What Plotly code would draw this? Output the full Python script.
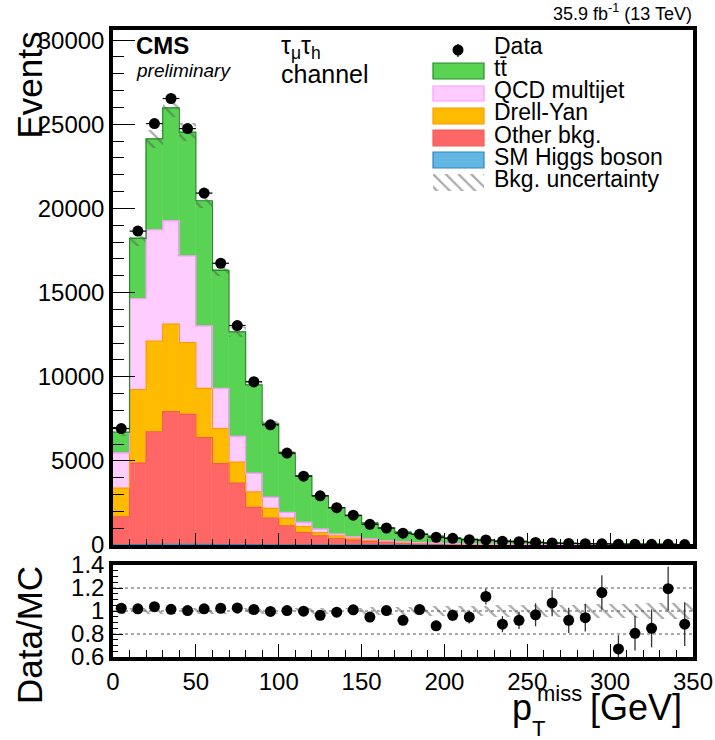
import plotly.graph_objects as go

# ---------------- data ----------------
bin_low = [0, 10, 20, 30, 40, 50, 60, 70, 80, 90, 100, 110, 120, 130, 140, 150, 160, 170,
           180, 190, 200, 210, 220, 230, 240, 250, 260, 270, 280, 290, 300, 310, 320, 330, 340]
bin_width = 10

data_events = [6920, 18650, 25040, 26530, 24740, 20910, 16740, 13040, 9700, 7140, 5460, 4090,
               2920, 2220, 1770, 1230, 1010, 700, 640, 460, 400, 315, 300, 220, 196, 150, 120,
               95, 80, 70, 45, 45, 40, 40, 25]

higgs = [10, 25, 40, 45, 40, 35, 30, 25, 20, 15, 12, 10, 8, 6, 5, 4, 3, 3, 2, 2, 2, 1, 1, 1, 1,
         1, 1, 1, 1, 1, 1, 1, 1, 1, 1]
other_bkg = [1670, 4840, 6690, 7880, 7720, 6350, 4800, 3650, 2220, 1590, 1130, 730, 540, 380,
             290, 210, 150, 110, 85, 70, 55, 45, 35, 32, 28, 20, 15, 13, 11, 8, 9, 7, 6, 5, 4]
drell_yan = [1700, 4370, 5390, 5200, 4260, 2920, 2090, 1250, 920, 570, 460, 360, 190, 160, 110,
             80, 55, 40, 30, 22, 17, 13, 10, 9, 7, 5, 4, 3, 3, 2, 2, 2, 1, 1, 1]
qcd = [2090, 5410, 6610, 6150, 5160, 3710, 2380, 1530, 1100, 660, 330, 240, 200, 100, 80, 60,
       40, 30, 20, 15, 12, 9, 7, 6, 5, 4, 3, 2, 2, 1, 1, 1, 1, 1, 1]
ttbar = [1230, 3570, 5400, 6700, 7340, 7440, 7020, 6210, 5260, 4360, 3540, 2780, 1990, 1580,
         1260, 950, 755, 580, 495, 423, 331, 263, 213, 203, 175, 126, 90, 85, 69, 49, 55, 46,
         39, 27, 22]

bkg_unc_rel = [0.03, 0.025, 0.022, 0.022, 0.022, 0.022, 0.022, 0.022, 0.022, 0.024, 0.025,
               0.026, 0.028, 0.03, 0.03, 0.032, 0.034, 0.036, 0.038, 0.04, 0.042, 0.044, 0.046,
               0.048, 0.05, 0.052, 0.054, 0.056, 0.058, 0.06, 0.062, 0.064, 0.066, 0.068, 0.07]

ratio = [1.024, 1.019, 1.038, 1.015, 1.004, 1.019, 1.024, 1.027, 1.013, 0.996, 1.004, 0.998,
         0.962, 0.99, 1.01, 0.947, 1.004, 0.919, 1.013, 0.871, 0.962, 0.947, 1.126, 0.885,
         0.919, 0.967, 1.07, 0.919, 0.942, 1.16, 0.67, 0.806, 0.849, 1.194, 0.885]
ratio_err = [0.012, 0.008, 0.007, 0.006, 0.007, 0.007, 0.008, 0.009, 0.01, 0.012, 0.014, 0.016,
             0.019, 0.021, 0.024, 0.028, 0.032, 0.037, 0.04, 0.045, 0.05, 0.055, 0.07, 0.07,
             0.075, 0.1, 0.115, 0.11, 0.12, 0.15, 0.12, 0.15, 0.165, 0.19, 0.19]

ytick_vals = [0, 5000, 10000, 15000, 20000, 25000, 30000]

# ---------------- styling ----------------
FONT = "Liberation Sans, Arial, Helvetica, sans-serif"
C_TT, L_TT = "#59D354", "#2A8C2A"
C_QCD, L_QCD = "#FFCCFF", "#FF99FF"
C_DY, L_DY = "#FFBB00", "#FF9900"
C_OTH, L_OTH = "#FF6666", "#F25A5A"
C_H, L_H = "#63B5E2", "#2E86C1"

centers = [b + bin_width / 2 for b in bin_low]
edges = bin_low + [bin_low[-1] + bin_width]

fig = go.Figure()

components = [(higgs, C_H, L_H), (other_bkg, C_OTH, L_OTH), (drell_yan, C_DY, L_DY),
              (qcd, C_QCD, L_QCD), (ttbar, C_TT, L_TT)]
cum = [0.0] * len(bin_low)
tops = []
for vals, col, lcol in components:
    base = list(cum)
    fig.add_trace(go.Bar(x=centers, y=vals, base=base, width=bin_width,
                         marker=dict(color=col, line=dict(color=col, width=0.6)),
                         showlegend=False, hoverinfo="skip", xaxis="x", yaxis="y"))
    cum = [c + v for c, v in zip(cum, vals)]
    tops.append((list(cum), lcol))

# step outlines of each stacked layer
for top, lcol in tops:
    fig.add_trace(go.Scatter(x=edges, y=top + [top[-1]], mode="lines",
                             line=dict(color=lcol, width=1.2, shape="hv"),
                             showlegend=False, hoverinfo="skip", xaxis="x", yaxis="y"))

total = cum
hatch = dict(shape="\\", fgcolor="#555555", bgcolor="rgba(0,0,0,0)", size=9,
             solidity=0.25, fillmode="overlay")
fig.add_trace(go.Bar(x=centers, y=[2 * u * t for u, t in zip(bkg_unc_rel, total)],
                     base=[(1 - u) * t for u, t in zip(bkg_unc_rel, total)], width=bin_width,
                     marker=dict(color="rgba(0,0,0,0)", line=dict(width=0), pattern=hatch),
                     showlegend=False, hoverinfo="skip", xaxis="x", yaxis="y"))

fig.add_trace(go.Scatter(x=centers, y=data_events, mode="markers",
                         marker=dict(color="black", size=11),
                         error_x=dict(type="constant", value=bin_width / 2, width=0,
                                      thickness=1.2, color="black"),
                         showlegend=False, xaxis="x", yaxis="y"))

# ratio panel
fig.add_trace(go.Bar(x=centers, y=[2 * u for u in bkg_unc_rel],
                     base=[1 - u for u in bkg_unc_rel], width=bin_width,
                     marker=dict(color="rgba(0,0,0,0)", line=dict(width=0), pattern=hatch),
                     showlegend=False, hoverinfo="skip", xaxis="x2", yaxis="y2"))
fig.add_trace(go.Scatter(x=centers, y=ratio, mode="markers",
                         marker=dict(color="black", size=11),
                         error_y=dict(type="data", array=ratio_err, width=0, thickness=1.3,
                                      color="#333333"),
                         showlegend=False, xaxis="x2", yaxis="y2", cliponaxis=True))

W, H = 715, 740
L, R, T, B = 113, 22, 30, 83
PW, PH = W - L - R, H - T - B


def px(xpix):
    return (xpix - L) / PW


def py(ypix):
    return (H - B - ypix) / PH


# legend swatch for the hatch (hidden helper axis)
fig.add_trace(go.Bar(x=[0.5], y=[1], base=[0], width=[1],
                     marker=dict(color="rgba(0,0,0,0)", line=dict(width=0), pattern=hatch),
                     showlegend=False, hoverinfo="skip", xaxis="x3", yaxis="y3"))

main_bottom = py(545)
ratio_top = py(565)

axis_common = dict(showline=True, linecolor="black", linewidth=3.5, mirror=True,
                   showgrid=False, zeroline=False, ticks="inside", tickcolor="black",
                   automargin=False,
                   tickfont=dict(family=FONT, size=24, color="black"))

fig.update_layout(
    width=W, height=H,
    margin=dict(l=L, r=R, t=T, b=B, autoexpand=False),
    paper_bgcolor="white", plot_bgcolor="white",
    barmode="overlay", bargap=0,
    font=dict(family=FONT, color="black"),
    showlegend=False,
    xaxis=dict(domain=[0, 1], anchor="y", range=[0, 350], dtick=50, tick0=0,
               ticklen=12, showticklabels=False,
               minor=dict(dtick=10, ticklen=6, ticks="inside", tickcolor="black"),
               **axis_common),
    yaxis=dict(domain=[main_bottom, 1], anchor="x", range=[0, 30600],
               tickvals=ytick_vals, tickformat="d", ticklen=22,
               minor=dict(dtick=1000, ticklen=11, ticks="inside", tickcolor="black"),
               **axis_common),
    xaxis2=dict(domain=[0, 1], anchor="y2", range=[0, 350], dtick=50, tick0=0,
                ticklen=13, matches="x",
                minor=dict(dtick=10, ticklen=7, ticks="inside", tickcolor="black"),
                **axis_common),
    yaxis2=dict(domain=[0, ratio_top], anchor="x2", range=[0.6, 1.4], dtick=0.2,
                tick0=0.6, ticklen=10,
                minor=dict(dtick=0.05, ticklen=5, ticks="inside", tickcolor="black"),
                **axis_common),
    xaxis3=dict(domain=[px(433), px(484)], anchor="y3", range=[0, 1], visible=False,
                fixedrange=True, automargin=False),
    yaxis3=dict(domain=[py(191), py(174)], anchor="x3", range=[0, 1], visible=False,
                fixedrange=True, automargin=False),
)

shapes = []
for yv in [0.8, 1.0, 1.2]:
    shapes.append(dict(type="line", xref="x2", yref="y2", x0=0, x1=350, y0=yv, y1=yv,
                       line=dict(color="#555555", width=1, dash="dot"), layer="below"))

# legend boxes
legend_boxes = [(63, 79, C_TT, L_TT), (86, 101, C_QCD, L_QCD), (108, 124, C_DY, L_DY),
                (130, 146, C_OTH, L_OTH), (152, 168, C_H, L_H)]
for y0, y1, col, lcol in legend_boxes:
    shapes.append(dict(type="rect", xref="paper", yref="paper", x0=px(433), x1=px(484),
                       y0=py(y1), y1=py(y0), fillcolor=col, line=dict(color=lcol, width=1.2)))
# data marker in legend
shapes.append(dict(type="line", xref="paper", yref="paper", x0=px(458), x1=px(458),
                   y0=py(57), y1=py(44), line=dict(color="black", width=1.2)))
shapes.append(dict(type="circle", xref="paper", yref="paper", x0=px(452.5), x1=px(463.5),
                   y0=py(55.5), y1=py(44.5), fillcolor="black", line=dict(color="black", width=0)))
fig.update_layout(shapes=shapes)

ann = []


def text(x, y, s, size, xanchor="left", yanchor="middle", angle=0, **kw):
    ann.append(dict(xref="paper", yref="paper", x=px(x), y=py(y), text=s, showarrow=False,
                    xanchor=xanchor, yanchor=yanchor, textangle=angle,
                    font=dict(family=FONT, size=size, color="black"), **kw))


legend_labels = [(46, "Data"), (68, "tt\u0304"), (90, "QCD multijet"), (112, "Drell-Yan"),
                 (135, "Other bkg."), (157, "SM Higgs boson"), (179, "Bkg. uncertainty")]
for yc, s in legend_labels:
    text(492, yc, s, 23)

text(134, 46, "<b>CMS</b>", 24)
text(134, 70, "<i>preliminary</i>", 19)
text(279, 47, "\u03c4<sub>\u03bc</sub>\u03c4<sub>h</sub>", 25)
text(279, 74, "channel", 25)
text(694, 13, "35.9 fb<sup>-1</sup> (13 TeV)", 18, xanchor="right")
text(29, 30, "Events", 35, xanchor="center", yanchor="top", angle=-90)
text(29, 635, "Data/MC", 35, xanchor="center", angle=-90)
text(510, 707, "p", 36)
text(535, 694, "miss", 22)
text(530, 728, "T", 22)
text(684, 707, "[GeV]", 36, xanchor="right")
fig.update_layout(annotations=ann)

fig.write_html("out.html")
